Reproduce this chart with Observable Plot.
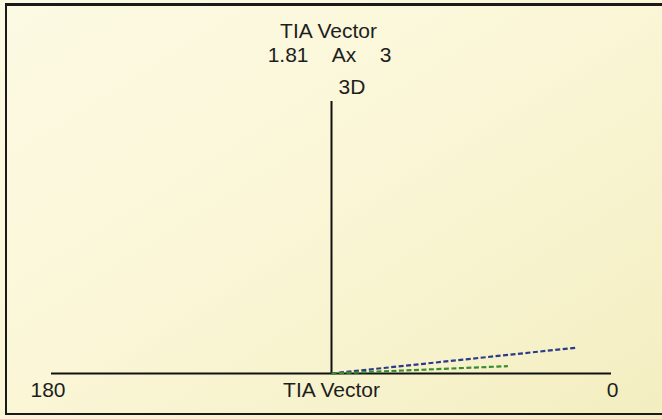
<!DOCTYPE html>
<html>
<head>
<meta charset="utf-8">
<script src="https://cdn.jsdelivr.net/npm/d3@7"></script>
<script src="https://cdn.jsdelivr.net/npm/@observablehq/plot@0.6"></script>
<style>
  html, body { margin: 0; padding: 0; width: 662px; height: 419px; overflow: hidden; }
  body { background: linear-gradient(to bottom right, #fdfae4 0%, #faf6d6 50%, #f3eec0 100%); position: relative; }
  #chart { position: absolute; left: 0; top: 0; }
  #border { position: absolute; left: 5px; top: 3px; width: 720px; height: 407px;
            border-left: 2px solid #1a1a1a; border-top: 3px solid #1a1a1a; border-bottom: 2px solid #1a1a1a;
            pointer-events: none; }
</style>
</head>
<body>
<div id="chart"></div>
<div id="border"></div>
<script>
// Title texts
const titleLine1 = "TIA Vector";
const vectorMagnitude = "1.81";
const vectorAxis = "3";
const topAxisLabel = "3D";
const bottomAxisTitle = "TIA Vector";

// Horizontal axis end labels (degrees) and their positions on the x scale
const endLabels = ["180", "0"];
const endLabelX = [-2, 2];

// Vector end points (double-angle plot units)
const vectorNames = ["TIA", "SIA"];
const vectorX = [1.75, 1.26];
const vectorY = [0.19, 0.054];
const vectorColors = ["#2c3a8a", "#3a8c2c"];

const vectors = vectorNames.map((n, i) => ({name: n, x1: 0, y1: 0, x2: vectorX[i], y2: vectorY[i], color: vectorColors[i]}));
const ends = endLabels.map((t, i) => ({text: t, x: endLabelX[i]}));

const font = "'Liberation Sans', Arial, sans-serif";
const ink = "#1e1e1e";
const fs = 21;

const chart = Plot.plot({
  width: 662,
  height: 419,
  marginTop: 101,
  marginBottom: 46,
  marginLeft: 51,
  marginRight: 51,
  x: {domain: [-2, 2], axis: null},
  y: {domain: [0, 2], axis: null},
  style: {background: "transparent", fontFamily: font, fontSize: fs + "px", color: ink},
  marks: [
    Plot.ruleY([0], {stroke: "#111", strokeWidth: 2}),
    Plot.ruleX([0], {y1: 0, y2: 2, stroke: "#111", strokeWidth: 2}),
    Plot.link(vectors, {x1: "x1", y1: "y1", x2: "x2", y2: "y2", stroke: "color", strokeWidth: 2.2, strokeDasharray: "5,2.5"}),
    Plot.text([titleLine1], {frameAnchor: "top", lineAnchor: "middle", text: d => d, dy: -70, dx: -3, fontSize: fs, fill: ink}),
    Plot.text([`${vectorMagnitude}\u00a0\u00a0\u00a0\u00a0Ax\u00a0\u00a0\u00a0\u00a0${vectorAxis}`], {frameAnchor: "top", lineAnchor: "middle", text: d => d, dy: -46.5, dx: -2, fontSize: fs, fill: ink}),
    Plot.text([topAxisLabel], {x: 0, y: 2, text: d => d, dx: 7, dy: -14.5, textAnchor: "start", lineAnchor: "middle", fontSize: fs, fill: ink}),
    Plot.text([bottomAxisTitle], {x: 0, y: 0, text: d => d, dy: 16.5, lineAnchor: "middle", fontSize: fs, fill: ink}),
    Plot.text(ends.filter(d => d.x < 0), {x: "x", y: 0, text: "text", dy: 16.5, dx: -3.5, lineAnchor: "middle", fontSize: fs, fill: ink}),
    Plot.text(ends.filter(d => d.x > 0), {x: "x", y: 0, text: "text", dy: 16.5, dx: 1, lineAnchor: "middle", fontSize: fs, fill: ink})
  ]
});
document.getElementById("chart").appendChild(chart);
</script>
</body>
</html>
